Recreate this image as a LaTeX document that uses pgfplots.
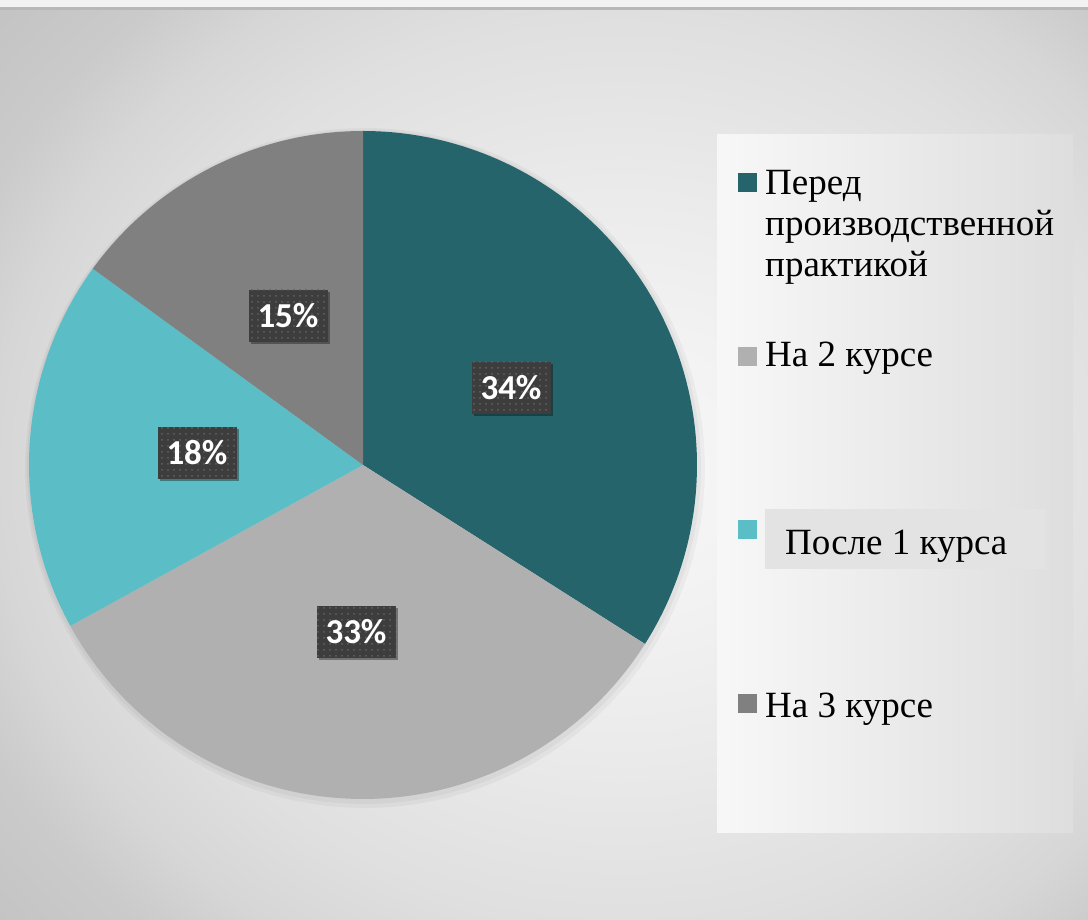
\documentclass[border=0pt]{standalone}
\usepackage{fontspec}
\setmainfont{Liberation Serif}
\newfontfamily\labfont{Carlito}
\usepackage{pgfplots}
\usepackage{pgfplotstable}
\pgfplotsset{compat=1.18}
\usetikzlibrary{patterns.meta,shadows}
\definecolor{cA}{HTML}{25646B}
\definecolor{cB}{HTML}{B0B0B0}
\definecolor{cC}{HTML}{5BBEC6}
\definecolor{cD}{HTML}{808080}
\pgfdeclareradialshading{bgshade}{\pgfpoint{0bp}{0bp}}{%
  color(0bp)=(white!97!black); color(5bp)=(white!95!black); color(10bp)=(white!92!black);
  color(16.25bp)=(white!87.5!black); color(19.5bp)=(white!84!black); color(22bp)=(white!79.5!black);
  color(25bp)=(white!77!black); color(50bp)=(white!77!black)}
\pgfplotstableread{
label value
A 34
B 33
C 18
D 15
}\piedata
\pgfplotstablegetelem{0}{value}\of\piedata \let\vA\pgfplotsretval
\pgfplotstablegetelem{1}{value}\of\piedata \let\vB\pgfplotsretval
\pgfplotstablegetelem{2}{value}\of\piedata \let\vC\pgfplotsretval
\pgfplotstablegetelem{3}{value}\of\piedata \let\vD\pgfplotsretval
\pgfmathsetmacro\aO{90}
\pgfmathsetmacro\aA{90-3.6*\vA}
\pgfmathsetmacro\aB{\aA-3.6*\vB}
\pgfmathsetmacro\aC{\aB-3.6*\vC}
\pgfmathsetmacro\aD{\aC-3.6*\vD}
\tikzset{lab/.style={fill=black!76, minimum width=79pt, minimum height=52pt, inner sep=0pt,
  drop shadow={shadow xshift=2.5pt, shadow yshift=-2.5pt, opacity=0.35, fill=black},
  postaction={pattern={Dots[radius=1pt, distance=6pt]}, pattern color=black!62},
  text=white, font=\labfont\bfseries\fontsize{35}{40}\selectfont},
  leg/.style={anchor=base west, inner sep=0pt, font=\fontsize{37}{42}\selectfont}}
\begin{document}
\begin{tikzpicture}
% background
\begin{scope}
\clip (0pt,0pt) rectangle (1088pt,911pt);
\shade[shading=bgshade] (-180pt,-250pt) rectangle (1420pt,1150pt);
\end{scope}
\fill[black!5] (0pt,913pt) rectangle (1088pt,920pt);
\fill[black!28] (0pt,910pt) rectangle (1088pt,913pt);
% legend panel
\shade[left color=white!97!black, right color=black!13] (717pt,87pt) rectangle (1073pt,785pt);
\begin{axis}[hide axis, scale only axis, width=1088pt, height=920pt,
  xmin=0, xmax=1088, ymin=0, ymax=920, clip=false, anchor=south west, at={(0pt,0pt)}]
% soft shadow
\addplot[draw=none, fill=black, fill opacity=0.035, domain=0:360, samples=120, variable=\t]
  ({365+340*cos(\t)},{452+340*sin(\t)}) -- cycle;
\addplot[draw=none, fill=black, fill opacity=0.035, domain=0:360, samples=120, variable=\t]
  ({364+337*cos(\t)},{453+337*sin(\t)}) -- cycle;
\addplot[draw=none, fill=cA, domain=\aA:\aO, samples=100, variable=\t]
  ({363+334*cos(\t)},{455+334*sin(\t)}) -- (axis cs:363,455) -- cycle;
\addplot[draw=none, fill=cB, domain=\aB:\aA, samples=100, variable=\t]
  ({363+334*cos(\t)},{455+334*sin(\t)}) -- (axis cs:363,455) -- cycle;
\addplot[draw=none, fill=cC, domain=\aC:\aB, samples=60, variable=\t]
  ({363+334*cos(\t)},{455+334*sin(\t)}) -- (axis cs:363,455) -- cycle;
\addplot[draw=none, fill=cD, domain=\aD:\aC, samples=60, variable=\t]
  ({363+334*cos(\t)},{455+334*sin(\t)}) -- (axis cs:363,455) -- cycle;
\node[lab] at (axis cs:511,532) {34\%};
\node[lab] at (axis cs:356,288) {33\%};
\node[lab] at (axis cs:197,467) {18\%};
\node[lab] at (axis cs:288,604) {15\%};
\end{axis}
% legend
\fill[cA] (738pt,728pt) rectangle (757pt,747pt);
\node[leg] at (765pt,725pt) {Перед};
\node[leg] at (765pt,684pt) {производственной};
\node[leg] at (765pt,643pt) {практикой};
\fill[cB] (738pt,554pt) rectangle (757pt,573pt);
\node[leg] at (765pt,553pt) {На 2 курсе};
\fill[black!11] (765pt,351pt) rectangle (1045pt,411pt);
\fill[cC] (738pt,381pt) rectangle (757pt,400pt);
\node[leg] at (785pt,365pt) {После 1 курса};
\fill[cD] (738pt,207pt) rectangle (757pt,226pt);
\node[leg] at (765pt,202pt) {На 3 курсе};
\end{tikzpicture}
\end{document}
